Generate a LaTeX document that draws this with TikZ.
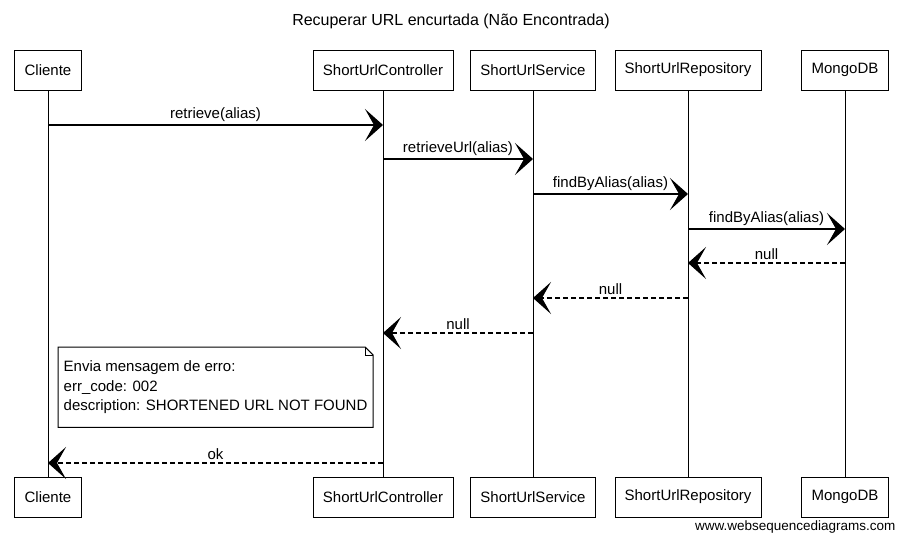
\documentclass[tikz,border=0pt]{standalone}
\usepackage{fontspec}
\setmainfont{Liberation Sans}
\usetikzlibrary{arrows.meta,positioning}

\tikzset{
  actor/.style={draw, line width=0.9pt, minimum width=#1, minimum height=40pt,
    inner sep=0pt, font=\fontsize{15}{17}\selectfont},
  life/.style={line width=0.8pt},
  call/.style={line width=1.4pt, -{Stealth[length=18pt,width=32pt,inset=9pt]}},
  reply/.style={call, dash pattern=on 5pt off 3pt},
  lbl/.style={font=\fontsize{15}{17}\selectfont, inner sep=1pt, midway, above, yshift=1.5pt},
  notebox/.style={align=left, inner xsep=5.5pt, minimum width=313pt, minimum height=80pt,
    font=\fontsize{15}{19.5}\selectfont}
}

\begin{document}
\begin{tikzpicture}[x=1pt, y=-1pt]
  \useasboundingbox (0,0) rectangle (902,541);

  \node[font=\fontsize{16}{19}\selectfont] (title) at (451,21) {Recuperar URL encurtada (Não Encontrada)};

  % participants, top and bottom, with lifelines
  \foreach \n/\t/\x/\w in {cli/Cliente/48/67, ctl/ShortUrlController/383/140,
      svc/ShortUrlService/533/125, rep/ShortUrlRepository/688/146, mdb/MongoDB/845/87} {
    \node[actor=\w pt] (\n T) at (\x,70) {\t};
    \node[actor=\w pt] (\n B) at (\x,497) {\t};
    \draw[life] (\n T) -- (\n B);
  }

  % calls
  \draw[call] (cliT |- 0,125) -- (ctlT |- 0,125) node[lbl] {retrieve(alias)};
  \draw[call] (ctlT |- 0,159) -- (svcT |- 0,159) node[lbl] {retrieveUrl(alias)};
  \draw[call] (svcT |- 0,194) -- (repT |- 0,194) node[lbl] {findByAlias(alias)};
  \draw[call] (repT |- 0,229) -- (mdbT |- 0,229) node[lbl] {findByAlias(alias)};

  % returns
  \draw[reply] (mdbT |- 0,263) -- (repT |- 0,263) node[lbl] {null};
  \draw[reply] (repT |- 0,298) -- (svcT |- 0,298) node[lbl] {null};
  \draw[reply] (svcT |- 0,333) -- (ctlT |- 0,333) node[lbl] {null};

  % note
  \node[notebox, anchor=north west] (err) at (58,347)
    {Envia mensagem de erro:\\err\_code: 002\\description: SHORTENED URL NOT FOUND};
  \draw[line width=1pt] (err.north west) -- ([xshift=-8pt]err.north east)
    -- ([yshift=-8pt]err.north east) -- (err.south east) -- (err.south west) -- cycle;
  \draw[line width=0.7pt] ([xshift=-8pt]err.north east) -- ([xshift=-8pt,yshift=-8pt]err.north east)
    -- ([yshift=-8pt]err.north east);

  \draw[reply] (ctlT |- 0,463) -- (cliT |- 0,463) node[lbl] {ok};

  \node[anchor=east, font=\fontsize{13.5}{15}\selectfont] (wsd) at (899,527) {www.websequencediagrams.com};
\end{tikzpicture}
\end{document}
